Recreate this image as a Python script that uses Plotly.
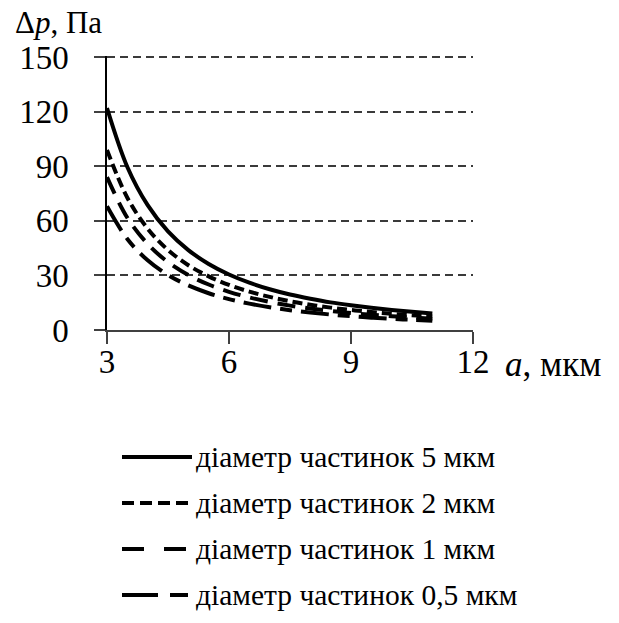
import plotly.graph_objects as go

a_values = [3, 3.5, 4, 4.5, 5, 5.5, 6, 6.5, 7, 7.5, 8, 8.5, 9, 9.5, 10, 10.5, 11]
dp_5um = [122, 89.6, 68.6, 54.2, 43.9, 36.3, 30.5, 26.0, 22.4, 19.5, 17.2, 15.2, 13.6, 12.2, 11.0, 10.0, 9.1]
dp_2um = [99, 72.7, 55.7, 44.0, 35.6, 29.5, 24.8, 21.1, 18.2, 15.8, 13.9, 12.3, 11.0, 9.9, 8.9, 8.1, 7.4]
dp_1um = [84, 61.7, 47.3, 37.3, 30.2, 25.0, 21.0, 17.9, 15.4, 13.4, 11.8, 10.5, 9.3, 8.4, 7.6, 6.9, 6.2]
dp_05um = [68, 50.0, 38.3, 30.2, 24.5, 20.2, 17.0, 14.5, 12.5, 10.9, 9.6, 8.5, 7.6, 6.8, 6.1, 5.6, 5.1]

series_names = ["діаметр частинок 5 мкм", "діаметр частинок 2 мкм",
                "діаметр частинок 1 мкм", "діаметр частинок 0,5 мкм"]
series_values = [dp_5um, dp_2um, dp_1um, dp_05um]
dash_styles = ["solid", "10px,5px", "18px,10px", "28px,9px,12px,9px"]
legend_dashes = ["solid", "12px,6px", "22px,20px", "36px,12px,18px,12px"]

x_ticks = [3, 6, 9, 12]
y_ticks = [0, 30, 60, 90, 120, 150]

FONT = "Liberation Serif"
W, H = 619, 623
PX0, PW = 107, 366   # plot area left edge and width (px)
PY0, PH = 56, 274    # plot area top edge and height (px)


def px_x(px):
    return (px - PX0) / PW


def px_y(py):
    return (PY0 + PH - py) / PH


fig = go.Figure()
for name, vals, dash in zip(series_names, series_values, dash_styles):
    fig.add_trace(go.Scatter(x=a_values, y=vals, mode="lines", name=name,
                             line=dict(color="black", width=4, dash=dash, shape="spline"),
                             showlegend=False))

# custom legend below the plot
legend_rows = [457, 503, 549, 595]
for name, dash, row in zip(series_names, legend_dashes, legend_rows):
    fig.add_shape(type="line", xref="paper", yref="paper",
                  x0=px_x(122), x1=px_x(192), y0=px_y(row), y1=px_y(row),
                  line=dict(color="black", width=4, dash=dash))
    fig.add_annotation(xref="paper", yref="paper", x=px_x(194), y=px_y(row),
                       text=name, showarrow=False, xanchor="left", yanchor="middle",
                       font=dict(family=FONT, size=29.5, color="black"))

fig.add_annotation(xref="paper", yref="paper", x=px_x(13), y=px_y(22),
                   text="Δ<i>p</i>, Па", showarrow=False, xanchor="left", yanchor="middle",
                   font=dict(family=FONT, size=31, color="black"))
fig.add_annotation(xref="paper", yref="paper", x=px_x(503), y=px_y(364),
                   text="<i>a</i>, мкм", showarrow=False, xanchor="left", yanchor="middle",
                   font=dict(family=FONT, size=35, color="black"))

fig.update_xaxes(range=[3, 12], tickvals=x_ticks, ticks="outside", ticklen=12,
                 tickcolor="#404040", tickwidth=1.5, showline=True, linecolor="#404040",
                 linewidth=1.5, showgrid=False, zeroline=False,
                 tickfont=dict(family=FONT, size=33, color="black"), ticklabelstandoff=-10)
fig.update_yaxes(range=[0, 150.6], tickvals=y_ticks, ticks="outside", ticklen=11,
                 tickcolor="#404040", tickwidth=1.5, showline=True, linecolor="black",
                 linewidth=1.5, showgrid=True, gridcolor="#3a3a3a", griddash="8px,5px",
                 gridwidth=1.5, zeroline=False,
                 tickfont=dict(family=FONT, size=33, color="black"), ticklabelstandoff=19)

fig.update_layout(width=W, height=H,
                  margin=dict(l=PX0, r=W - PX0 - PW, t=PY0, b=H - PY0 - PH),
                  plot_bgcolor="white", paper_bgcolor="white", showlegend=False)

fig.write_html("out.html", config={"displayModeBar": False},
               post_script="document.body.style.margin='0';document.body.style.overflow='hidden';")
